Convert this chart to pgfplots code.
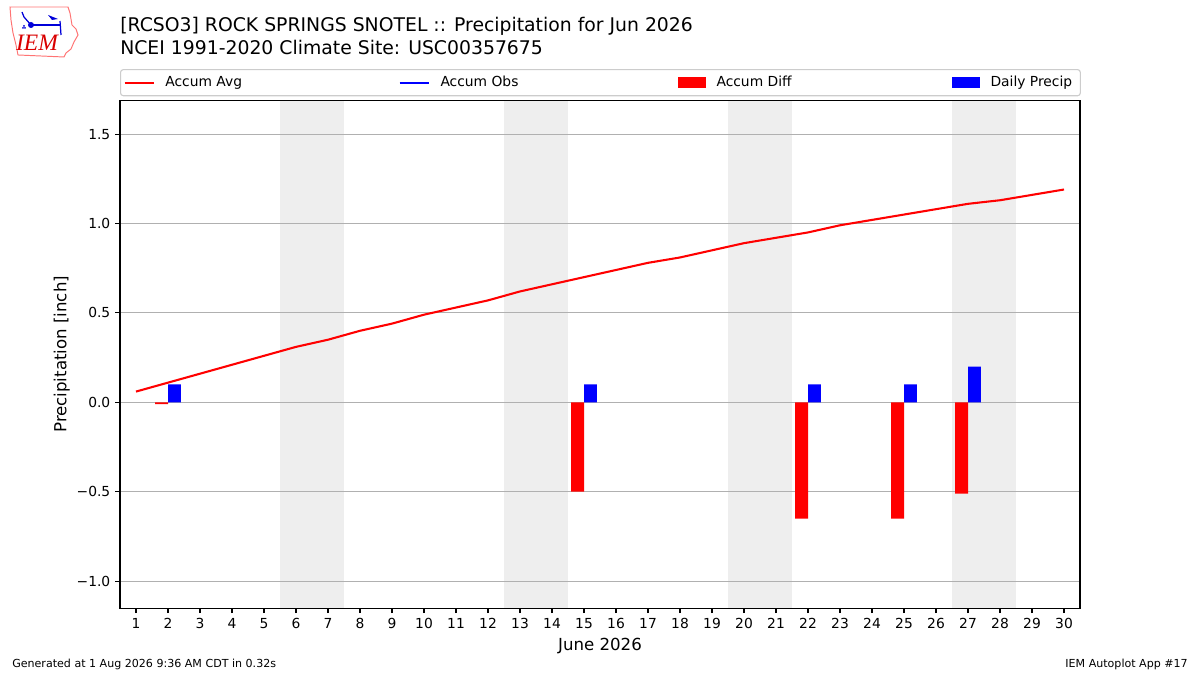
\documentclass[border=0pt]{standalone}
\usepackage{pgfplots}
\pgfplotsset{compat=1.18}
\usepackage{fontspec}
\setmainfont{DejaVu Sans}
\newfontfamily\serifit{Liberation Serif}
\definecolor{wkend}{RGB}{238,238,238}
\definecolor{gridc}{RGB}{176,176,176}
\definecolor{legc}{RGB}{204,204,204}
\begin{document}
\begin{tikzpicture}
\path (0,0) rectangle (12in,6.75in);
% logo (decoration)
\begin{scope}[shift={(0in,6.75in)}]
\draw[red!55!white, line width=0.7pt] (0.10in,-0.07in) -- (0.68in,-0.07in) -- (0.70in,-0.13in) -- (0.72in,-0.25in) -- (0.76in,-0.29in) -- (0.78in,-0.35in) -- (0.74in,-0.42in) -- (0.71in,-0.49in) -- (0.66in,-0.53in) -- (0.64in,-0.57in) -- (0.18in,-0.55in) -- (0.16in,-0.45in) -- (0.13in,-0.33in) -- (0.11in,-0.20in) -- cycle;
\draw[blue!85!black, line width=1.2pt] (0.31in,-0.25in) -- (0.61in,-0.25in);
\fill[blue!85!black] (0.31in,-0.25in) circle (0.03in);
\fill[blue!85!black] (0.48in,-0.15in) -- (0.58in,-0.19in) -- (0.52in,-0.20in) -- cycle;
\draw[blue!85!black, line width=0.9pt] (0.22in,-0.12in) -- (0.24in,-0.17in) -- (0.31in,-0.25in);
\draw[blue!85!black, line width=0.9pt] (0.60in,-0.21in) -- (0.61in,-0.35in);
\fill[blue!85!black] (0.23in,-0.28in) circle (0.01in) (0.25in,-0.28in) circle (0.01in) (0.24in,-0.26in) circle (0.01in);
\node[anchor=center, text=red!85!black, font=\serifit\itshape\fontsize{17}{17}\selectfont] at (0.37in,-0.43in) {IEM};
\end{scope}
% titles
\node[anchor=base west, font=\fontsize{13.6}{13.6}\selectfont, inner sep=0pt] at (1.20in,6.75in-0.315in) {[RCSO3] ROCK SPRINGS SNOTEL :: Precipitation for Jun 2026};
\node[anchor=base west, font=\fontsize{13.6}{13.6}\selectfont, inner sep=0pt] at (1.20in,6.75in-0.550in) {NCEI 1991-2020 Climate Site: USC00357675};
% footer
\node[anchor=base west, font=\fontsize{8}{8}\selectfont, inner sep=0pt] at (0.12in,0.07in) {Generated at 1 Aug 2026 9:36 AM CDT in 0.32s};
\node[anchor=base east, font=\fontsize{8}{8}\selectfont, inner sep=0pt] at (11.88in,0.07in) {IEM Autoplot App \#17};
\begin{axis}[
  set layers,
  at={(1.20in,0.667in)}, anchor=south west,
  scale only axis, width=9.60in, height=5.08in,
  xmin=0.5, xmax=30.5, ymin=-1.152, ymax=1.689,
  xtick={1,...,30},
  ytick={-1,-0.5,0,0.5,1,1.5},
  yticklabels={−1.0,−0.5,0.0,0.5,1.0,1.5},
  /pgf/number format/assume math mode=true,
  tick align=outside, xtick pos=bottom, ytick pos=left,
  major tick length=3.5pt,
  tick style={black, line width=0.8pt},
  axis line style={line width=0.8pt},
  ticklabel style={font=\fontsize{10}{10}\selectfont},
  ymajorgrids, grid style={gridc, line width=0.8pt},
  xlabel={June 2026}, ylabel={Precipitation [inch]},
  label style={font=\fontsize{12}{12}\selectfont},
  xlabel style={yshift=0pt},
  ylabel style={yshift=-2pt},
  legend columns=4,
  legend style={at={(0,1)}, anchor=south west, yshift=0.04in,
    draw=legc, rounded corners=2pt, line width=0.8pt,
    font=\fontsize{10}{10}\selectfont,
    inner xsep=0.03in, inner ysep=0.04in,
    /tikz/every odd column/.append style={column sep=0.08in},
    /tikz/every even column/.append style={column sep=0.06in}},
  legend cell align=left,
  clip=true,
]
% weekend shading
\addplot[on layer=axis background, fill=wkend, draw=none, forget plot] coordinates {(5.5,-1.152) (5.5,1.689) (7.5,1.689) (7.5,-1.152)} -- cycle;
\addplot[on layer=axis background, fill=wkend, draw=none, forget plot] coordinates {(12.5,-1.152) (12.5,1.689) (14.5,1.689) (14.5,-1.152)} -- cycle;
\addplot[on layer=axis background, fill=wkend, draw=none, forget plot] coordinates {(19.5,-1.152) (19.5,1.689) (21.5,1.689) (21.5,-1.152)} -- cycle;
\addplot[on layer=axis background, fill=wkend, draw=none, forget plot] coordinates {(26.5,-1.152) (26.5,1.689) (28.5,1.689) (28.5,-1.152)} -- cycle;
% accum avg
\addplot[red, line width=1.5pt, mark=none, legend image code/.code={\draw[red, line width=1.5pt, sharp corners] (0in,0in) -- (0.29in,0in);}] coordinates {
(1,0.06) (2,0.11) (3,0.16) (4,0.21) (5,0.26) (6,0.31) (7,0.35) (8,0.40) (9,0.44) (10,0.49)
(11,0.53) (12,0.57) (13,0.62) (14,0.66) (15,0.70) (16,0.74) (17,0.78) (18,0.81) (19,0.85) (20,0.89)
(21,0.92) (22,0.95) (23,0.99) (24,1.02) (25,1.05) (26,1.08) (27,1.11) (28,1.13) (29,1.16) (30,1.19)};
\addlegendentry{\makebox[2.245in][l]{Accum Avg}}
\addlegendimage{legend image code/.code={\draw[blue, line width=1.5pt, sharp corners] (0in,0in) -- (0.29in,0in);}}
\addlegendentry{\makebox[2.285in][l]{Accum Obs}}
% accum diff
\addplot[ybar, bar width=0.4, bar shift=-0.2, fill=red, draw=none,
  legend image code/.code={\fill[red, sharp corners] (0in,-0.05in) rectangle (0.28in,0.06in);}] coordinates {
(2,-0.01) (15,-0.50) (22,-0.65) (25,-0.65) (27,-0.51)};
\addlegendentry{\makebox[2.265in][l]{Accum Diff}}
% daily precip
\addplot[ybar, bar width=0.4, bar shift=0.2, fill=blue, draw=none,
  legend image code/.code={\fill[blue, sharp corners] (0in,-0.05in) rectangle (0.28in,0.06in);}] coordinates {
(2,0.10) (15,0.10) (22,0.10) (25,0.10) (27,0.20)};
\addlegendentry{\makebox[0.84in][l]{Daily Precip}}
\end{axis}
\end{tikzpicture}
\end{document}
